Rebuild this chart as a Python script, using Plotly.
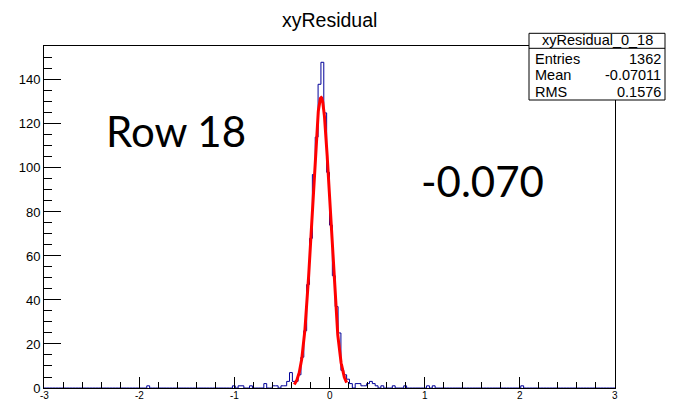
import numpy as np
import plotly.graph_objects as go

# ---------------- data ----------------
title_text = "xyResidual"
stats_name = "xyResidual_0_18"
stats_labels = ["Entries", "Mean", "RMS"]
stats_values = ["1362", "-0.07011", "0.1576"]
label_row = "Row 18"
label_value = "-0.070"

x_min, x_max, n_bins = -3.0, 3.0, 200

# lower edge of each non-empty bin and its content
bin_low = [-1.92, -1.02, -0.96, -0.93, -0.84, -0.69, -0.60, -0.57, -0.51, -0.48,
           -0.45, -0.42, -0.39, -0.36, -0.33, -0.30, -0.27, -0.24, -0.21, -0.18,
           -0.15, -0.12, -0.09, -0.06, -0.03, 0.00, 0.03, 0.06, 0.09, 0.12,
           0.15, 0.18, 0.21, 0.27, 0.30, 0.33, 0.36, 0.39, 0.42, 0.45,
           0.48, 0.54, 0.66, 0.78, 1.02, 1.08, 2.01]
bin_count = [1, 1, 1, 1, 1, 2, 1, 1, 1, 1,
             3, 7, 3, 3, 6, 14, 26, 47, 68, 97,
             114, 138, 148, 125, 98, 74, 51, 37, 25, 8,
             6, 4, 2, 2, 2, 1, 1, 2, 3, 2,
             1, 1, 1, 1, 1, 1, 1]

# gaussian fit drawn in red
fit_amp = 132.0
fit_mean = -0.088
fit_sigma = 0.095
fit_range = [-0.37, 0.18]

x_ticks = [-3, -2, -1, 0, 1, 2, 3]
y_ticks = [0, 20, 40, 60, 80, 100, 120, 140]
y_top = 155.4

# ---------------- build ----------------
bw = (x_max - x_min) / n_bins
counts = np.zeros(n_bins)
for lo, c in zip(bin_low, bin_count):
    counts[int(round((lo - x_min) / bw))] = c
edges = x_min + bw * np.arange(n_bins + 1)

fx = np.linspace(fit_range[0], fit_range[1], 300)
fy = fit_amp * np.exp(-0.5 * ((fx - fit_mean) / fit_sigma) ** 2)

# page geometry (the page body adds an 8 px margin around the figure)
PAGE_W, PAGE_H, BODY = 679, 401, 8
W, H = PAGE_W - BODY, PAGE_H - BODY
L, R, T, B = 44, 615, 46, 388          # plot frame in page pixels


def px(x):
    return (x - L) / (R - L)


def py(y):
    return (B - y) / (B - T)


fig = go.Figure()
fig.add_trace(go.Scatter(x=edges, y=np.append(counts, counts[-1]), mode="lines",
                         line=dict(color="#000099", width=1, shape="hv"),
                         hoverinfo="skip", showlegend=False))
fig.add_trace(go.Scatter(x=fx, y=fy, mode="lines",
                         line=dict(color="#ff0000", width=3),
                         hoverinfo="skip", showlegend=False))

yfont = dict(family="Liberation Sans, Arial, sans-serif", size=13, color="black")
xfont = dict(family="Liberation Sans, Arial, sans-serif", size=10, color="black")
fig.update_layout(
    width=W, height=H,
    margin=dict(l=L - BODY, r=W - (R - BODY), t=T - BODY, b=H - (B - BODY), autoexpand=False),
    paper_bgcolor="white", plot_bgcolor="white",
    showlegend=False,
    xaxis=dict(range=[x_min, x_max], showline=True, linecolor="black", linewidth=1,
               mirror=True, ticks="inside", ticklen=11, tickcolor="black", tickwidth=1,
               tickvals=x_ticks, showticklabels=False,
               showgrid=False, zeroline=False, layer="above traces", automargin=False,
               minor=dict(tickmode="linear", tick0=x_min, dtick=0.2, ticks="inside",
                          ticklen=6, tickcolor="black", showgrid=False)),
    yaxis=dict(range=[0, y_top], showline=True, linecolor="black", linewidth=1,
               mirror=True, ticks="inside", ticklen=17, tickcolor="black", tickwidth=1,
               tickvals=y_ticks, ticktext=[str(v) for v in y_ticks], tickfont=yfont,
               showgrid=False, zeroline=False, layer="above traces", automargin=False,
               minor=dict(tickmode="linear", tick0=0, dtick=5, ticks="inside",
                          ticklen=8, tickcolor="black", showgrid=False)),
)

# x tick labels just under the axis (the reference is cropped right below them)
for v in x_ticks:
    fig.add_annotation(text=str(v), xref="x", yref="paper", x=v, y=py(388.5),
                       xanchor="center", yanchor="top", showarrow=False,
                       font=xfont, borderpad=0)

# stats box (page pixels)
bx0, bx1, by0, by1, bsep = 529, 665, 33.3, 100, 48.3
fig.add_shape(type="rect", xref="paper", yref="paper",
              x0=px(bx0), x1=px(bx1), y0=py(by1), y1=py(by0),
              line=dict(color="black", width=1), fillcolor="white", layer="above")
fig.add_shape(type="line", xref="paper", yref="paper",
              x0=px(bx0), x1=px(bx1), y0=py(bsep), y1=py(bsep),
              line=dict(color="black", width=1), layer="above")

stat_font = dict(family="Liberation Sans, Arial, sans-serif", size=14.5, color="black")
fig.add_annotation(text=stats_name, xref="paper", yref="paper", x=px(597), y=py(39.6),
                   xanchor="center", yanchor="middle", showarrow=False, font=stat_font,
                   borderpad=0)
row_y = [58.5, 75, 91.5]
for lab, val, yy in zip(stats_labels, stats_values, row_y):
    fig.add_annotation(text=lab, xref="paper", yref="paper", x=px(533), y=py(yy),
                       xanchor="left", yanchor="middle", showarrow=False, font=stat_font)
    fig.add_annotation(text=val, xref="paper", yref="paper", x=px(663), y=py(yy),
                       xanchor="right", yanchor="middle", showarrow=False, font=stat_font)

# title
fig.add_annotation(text=title_text, xref="paper", yref="paper", x=px(329), y=py(19.5),
                   xanchor="center", yanchor="middle", showarrow=False,
                   font=dict(family="Liberation Sans, Arial, sans-serif", size=19.5, color="black"))

fig.add_annotation(text=label_row, xref="paper", yref="paper", x=px(104), y=py(131),
                   xanchor="left", yanchor="middle", showarrow=False,
                   font=dict(family="Lato, Open Sans, sans-serif", size=42, color="black"))
fig.add_annotation(text=label_value, xref="paper", yref="paper", x=px(419), y=py(181),
                   xanchor="left", yanchor="middle", showarrow=False,
                   font=dict(family="Lato, Open Sans, sans-serif", size=42, color="black"))

fig.write_html("out.html")
